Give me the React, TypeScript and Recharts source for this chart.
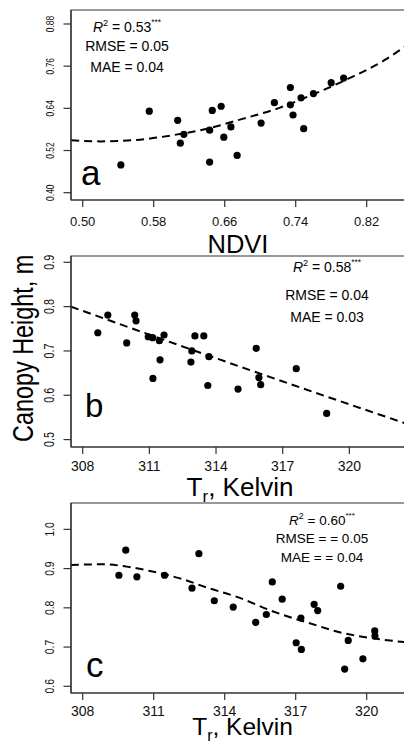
import React from 'react';
import { ComposedChart, Scatter, Line, XAxis, YAxis, ReferenceArea } from 'recharts';

// panel a: canopy height vs NDVI
const ndviPoints = [
  { x: 0.543, y: 0.479 }, { x: 0.575, y: 0.632 }, { x: 0.607, y: 0.606 },
  { x: 0.614, y: 0.566 }, { x: 0.610, y: 0.541 }, { x: 0.643, y: 0.578 },
  { x: 0.646, y: 0.634 }, { x: 0.656, y: 0.646 }, { x: 0.643, y: 0.487 },
  { x: 0.659, y: 0.558 }, { x: 0.667, y: 0.587 }, { x: 0.674, y: 0.506 },
  { x: 0.701, y: 0.598 }, { x: 0.716, y: 0.656 }, { x: 0.734, y: 0.699 },
  { x: 0.734, y: 0.650 }, { x: 0.737, y: 0.621 }, { x: 0.746, y: 0.670 },
  { x: 0.749, y: 0.582 }, { x: 0.760, y: 0.682 }, { x: 0.780, y: 0.713 },
  { x: 0.794, y: 0.726 },
];
const ndviFit = [
  { x: 0.487, y: 0.549 }, { x: 0.52, y: 0.546 }, { x: 0.56, y: 0.550 },
  { x: 0.60, y: 0.563 }, { x: 0.64, y: 0.582 }, { x: 0.68, y: 0.610 },
  { x: 0.72, y: 0.640 }, { x: 0.76, y: 0.680 }, { x: 0.80, y: 0.725 },
  { x: 0.84, y: 0.777 }, { x: 0.869, y: 0.826 },
];
const ndviXTicks = [0.5, 0.58, 0.66, 0.74, 0.82];
const ndviYTicks = [0.4, 0.52, 0.64, 0.76, 0.88];

// panel b: canopy height vs radiometric temperature
const tempPointsB = [
  { x: 308.68, y: 0.741 }, { x: 309.13, y: 0.781 }, { x: 309.98, y: 0.718 },
  { x: 310.34, y: 0.781 }, { x: 310.40, y: 0.768 }, { x: 310.95, y: 0.732 },
  { x: 311.15, y: 0.730 }, { x: 311.45, y: 0.723 }, { x: 311.66, y: 0.736 },
  { x: 311.48, y: 0.680 }, { x: 311.16, y: 0.638 }, { x: 312.91, y: 0.700 },
  { x: 312.87, y: 0.675 }, { x: 313.05, y: 0.734 }, { x: 313.45, y: 0.734 },
  { x: 313.68, y: 0.687 }, { x: 313.63, y: 0.622 }, { x: 314.99, y: 0.614 },
  { x: 315.81, y: 0.706 }, { x: 315.93, y: 0.640 }, { x: 316.01, y: 0.624 },
  { x: 317.61, y: 0.660 }, { x: 318.98, y: 0.559 },
];
const tempFitB = [
  { x: 307.47, y: 0.800 }, { x: 315, y: 0.666 }, { x: 322.73, y: 0.533 },
];

// panel c
const tempPointsC = [
  { x: 309.53, y: 0.883 }, { x: 309.82, y: 0.947 }, { x: 310.29, y: 0.879 },
  { x: 311.46, y: 0.883 }, { x: 312.91, y: 0.938 }, { x: 312.62, y: 0.850 },
  { x: 313.56, y: 0.818 }, { x: 314.36, y: 0.802 }, { x: 315.31, y: 0.763 },
  { x: 315.76, y: 0.783 }, { x: 316.01, y: 0.866 }, { x: 316.43, y: 0.822 },
  { x: 317.02, y: 0.711 }, { x: 317.24, y: 0.694 }, { x: 317.22, y: 0.774 },
  { x: 317.78, y: 0.809 }, { x: 317.93, y: 0.793 }, { x: 318.90, y: 0.855 },
  { x: 319.22, y: 0.717 }, { x: 319.07, y: 0.644 }, { x: 319.84, y: 0.670 },
  { x: 320.34, y: 0.741 }, { x: 320.35, y: 0.728 },
];
const tempFitC = [
  { x: 307.5, y: 0.909 }, { x: 308.87, y: 0.911 }, { x: 309.86, y: 0.905 },
  { x: 310.84, y: 0.894 }, { x: 312.11, y: 0.875 }, { x: 313.38, y: 0.849 },
  { x: 314.51, y: 0.828 }, { x: 316.08, y: 0.790 }, { x: 317.63, y: 0.760 },
  { x: 319.04, y: 0.735 }, { x: 320.31, y: 0.722 }, { x: 321.83, y: 0.711 },
];
const tempXTicks = [308, 311, 314, 317, 320];
const heightYTicksB = [0.5, 0.6, 0.7, 0.8, 0.9];
const heightYTicksC = [0.6, 0.7, 0.8, 0.9, 1.0];

const INK = '#000';
const FRAME = '#333';
const FONT = '"Liberation Sans", Arial, sans-serif';

const Dot = (p: any) => <circle cx={p.cx} cy={p.cy} r={3.6} fill={INK} />;

// R draws the rotated tick labels narrower than the horizontal ones
const makeYTick = (fs: number, digits: number) => (p: any) => (
  <text
    transform={`translate(${p.x},${p.y}) rotate(-90) scale(0.77,1)`}
    textAnchor="middle"
    fontSize={fs}
    fill="#111"
    fontFamily={FONT}
  >
    {Number(p.payload.value).toFixed(digits)}
  </text>
);

interface PanelProps {
  top: number;
  height: number;
  axisHeight: number;
  points: { x: number; y: number }[];
  fit: { x: number; y: number }[];
  xDomain: [number, number];
  yDomain: [number, number];
  xTicks: number[];
  yTicks: number[];
  xFont: number;
  xMargin: number;
  yTick: (p: any) => React.ReactElement;
  digits: number;
}

function Panel(props: PanelProps) {
  const { top, height, axisHeight, points, fit, xDomain, yDomain, xTicks, yTicks, xFont, xMargin, yTick, digits } = props;
  return (
    <div style={{ position: 'absolute', left: 0, top }}>
      <ComposedChart width={410} height={height} margin={{ top: 10, right: 0, bottom: 0, left: 0 }}>
        <XAxis
          type="number"
          dataKey="x"
          domain={xDomain}
          ticks={xTicks}
          interval={0}
          allowDataOverflow
          height={axisHeight}
          tickSize={7}
          tickMargin={xMargin}
          axisLine={{ stroke: FRAME, strokeWidth: 1.2 }}
          tickLine={{ stroke: FRAME, strokeWidth: 1.2 }}
          tick={{ fontSize: xFont, fill: '#111', fontFamily: FONT }}
          tickFormatter={(v: number) => v.toFixed(digits)}
        />
        <YAxis
          type="number"
          dataKey="y"
          domain={yDomain}
          ticks={yTicks}
          interval={0}
          allowDataOverflow
          width={71}
          tickSize={7.5}
          tickMargin={10}
          axisLine={{ stroke: FRAME, strokeWidth: 1.2 }}
          tickLine={{ stroke: FRAME, strokeWidth: 1.2 }}
          tick={yTick}
        />
        <ReferenceArea
          x1={xDomain[0]}
          x2={xDomain[1]}
          y1={yDomain[0]}
          y2={yDomain[1]}
          fill="none"
          fillOpacity={0}
          stroke={FRAME}
          strokeWidth={1.2}
        />
        <Line
          data={fit}
          dataKey="y"
          type="monotone"
          stroke={INK}
          strokeWidth={2}
          strokeDasharray="8 5"
          dot={false}
          activeDot={false}
          isAnimationActive={false}
        />
        <Scatter data={points} dataKey="y" shape={Dot} isAnimationActive={false} />
      </ComposedChart>
    </div>
  );
}

function Stats({ cx, ys, fs, r2, rmse, mae }: { cx: number; ys: number[]; fs: number; r2: string; rmse: string; mae: string }) {
  return (
    <g fontSize={fs} fill={INK} textAnchor="middle">
      <text x={cx} y={ys[0]}>
        <tspan fontStyle="italic">R</tspan>
        <tspan fontSize={fs * 0.65} dy={-6}>2</tspan>
        <tspan dy={6}>{` = ${r2}`}</tspan>
        <tspan fontSize={fs * 0.6} dy={-7}>***</tspan>
      </text>
      <text x={cx} y={ys[1]}>{rmse}</text>
      <text x={cx} y={ys[2]}>{mae}</text>
    </g>
  );
}

export default function App() {
  return (
    <div
      style={{
        position: 'absolute',
        left: 0,
        top: 0,
        width: 404,
        height: 747,
        overflow: 'hidden',
        background: '#fff',
        fontFamily: FONT,
      }}
    >
      <Panel
        top={0}
        height={256}
        axisHeight={56}
        points={ndviPoints}
        fit={ndviFit}
        xDomain={[0.4868, 0.8688]}
        yDomain={[0.3792, 0.9198]}
        xTicks={ndviXTicks}
        yTicks={ndviYTicks}
        xFont={13}
        xMargin={9.5}
        yTick={makeYTick(11, 2)}
        digits={2}
      />
      <Panel
        top={246}
        height={252}
        axisHeight={51}
        points={tempPointsB}
        fit={tempFitB}
        xDomain={[307.473, 322.73]}
        yDomain={[0.4833, 0.9142]}
        xTicks={tempXTicks}
        yTicks={heightYTicksB}
        xFont={14}
        xMargin={7}
        yTick={makeYTick(14, 1)}
        digits={0}
      />
      <Panel
        top={493}
        height={254}
        axisHeight={54}
        points={tempPointsC}
        fit={tempFitC}
        xDomain={[307.506, 321.83]}
        yDomain={[0.5829, 1.0672]}
        xTicks={tempXTicks}
        yTicks={heightYTicksC}
        xFont={14}
        xMargin={6.5}
        yTick={makeYTick(13.5, 1)}
        digits={0}
      />
      <svg width={404} height={747} style={{ position: 'absolute', left: 0, top: 0 }} fontFamily={FONT}>
        <Stats cx={127} ys={[31.7, 50.7, 71.7]} fs={14} r2="0.53" rmse="RMSE = 0.05" mae="MAE = 0.04" />
        <Stats cx={327} ys={[271.7, 300, 321.7]} fs={14} r2="0.58" rmse="RMSE = 0.04" mae="MAE = 0.03" />
        <Stats cx={322} ys={[525, 542.7, 562.3]} fs={13.5} r2="0.60" rmse="RMSE =  = 0.05" mae="MAE =  = 0.04" />

        <text x={81} y={185} fontSize={35} fill={INK}>a</text>
        <text x={85} y={417} fontSize={33} fill={INK}>b</text>
        <text x={86} y={677} fontSize={35} fill={INK}>c</text>

        <text x={238} y={253} fontSize={25.5} textAnchor="middle" fill={INK}>NDVI</text>
        <text
          transform="translate(33.3,348.3) rotate(-90) scale(0.78,1)"
          fontSize={30}
          textAnchor="middle"
          fill={INK}
        >
          Canopy Height, m
        </text>
        <text x={240} y={496} fontSize={26} textAnchor="middle" fill={INK}>
          T<tspan fontSize={17} dy={6}>r</tspan><tspan dy={-6}>, Kelvin</tspan>
        </text>
        <text x={242.5} y={735} fontSize={24.5} textAnchor="middle" fill={INK}>
          T<tspan fontSize={16} dy={6}>r</tspan><tspan dy={-6}>, Kelvin</tspan>
        </text>
      </svg>
    </div>
  );
}
